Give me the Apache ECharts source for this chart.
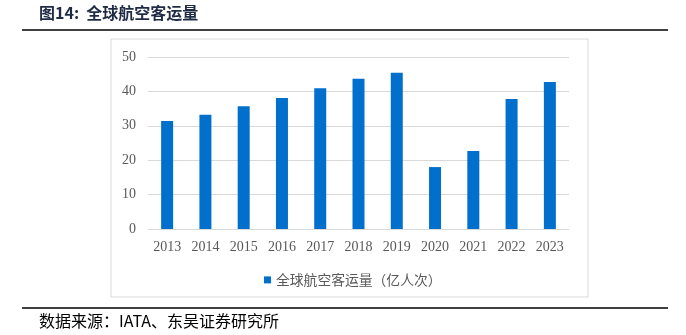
<!DOCTYPE html>
<html><head><meta charset="utf-8">
<script src="https://cdn.jsdelivr.net/npm/echarts@6/dist/echarts.min.js"></script>
<style>html,body{margin:0;padding:0;background:#fff}#c{width:686px;height:335px}</style>
</head><body><div id="c"></div>
<script>
const categories = ['2013','2014','2015','2016','2017','2018','2019','2020','2021','2022','2023'];
const passengers = [31.4, 33.2, 35.7, 38.1, 40.9, 43.7, 45.4, 18.0, 22.7, 37.8, 42.7];
const seriesName = '全球航空客运量（亿人次）';
const yTicks = {min: 0, max: 50, interval: 10};

const chart = echarts.init(document.getElementById('c'), null, {renderer: 'canvas'});
chart.setOption({
  animation: false,
  backgroundColor: '#fff',
  graphic: [
    {type: 'text', left: 39, top: 5, style: {text: '图14:  全球航空客运量', font: 'bold 16px "Noto Sans CJK SC", serif', fill: '#1f2a44'}},
    {type: 'line', shape: {x1: 22, y1: 30, x2: 668, y2: 30}, style: {stroke: '#000', lineWidth: 1.5}},
    {type: 'rect', shape: {x: 111, y: 39, width: 477, height: 258}, style: {fill: 'none', stroke: '#d9d9d9', lineWidth: 1}},
    {type: 'line', shape: {x1: 22, y1: 308, x2: 668, y2: 308}, style: {stroke: '#000', lineWidth: 1.5}},
    {type: 'text', left: 39, top: 313, style: {text: '数据来源：IATA、东吴证券研究所', font: '16px "Noto Sans CJK SC", serif', fill: '#000'}}
  ],
  grid: {left: 148, right: 117, top: 57, bottom: 106},
  legend: {
    data: [seriesName], top: 268, left: 259,
    icon: 'rect', itemWidth: 7, itemHeight: 7, itemGap: 4,
    textStyle: {color: '#595959', fontSize: 13.8, fontFamily: '"Noto Sans CJK SC"'}
  },
  xAxis: {
    type: 'category', data: categories,
    axisLine: {lineStyle: {color: '#d9d9d9'}},
    axisTick: {show: false},
    axisLabel: {color: '#595959', fontSize: 14, fontFamily: '"Liberation Serif"', margin: 11}
  },
  yAxis: {
    type: 'value', min: yTicks.min, max: yTicks.max, interval: yTicks.interval,
    axisLine: {show: false}, axisTick: {show: false},
    splitLine: {lineStyle: {color: '#d9d9d9'}},
    axisLabel: {color: '#595959', fontSize: 14, fontFamily: '"Liberation Serif"', margin: 12}
  },
  series: [{
    name: seriesName, type: 'bar', data: passengers, barWidth: 12,
    itemStyle: {color: '#0070cc'}
  }]
});
</script></body></html>
